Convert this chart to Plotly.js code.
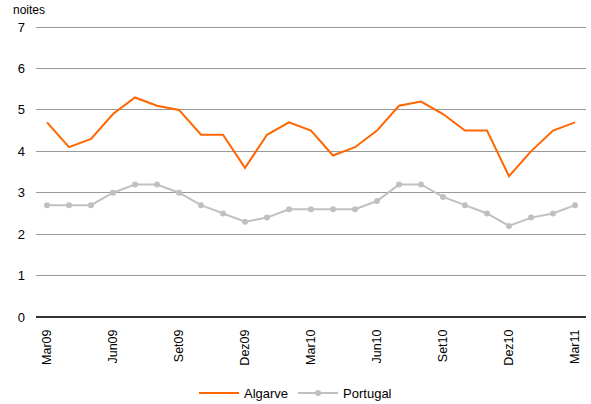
<!DOCTYPE html>
<html><head><meta charset="utf-8">
<script src="https://cdn.plot.ly/plotly-3.0.1.min.js"></script>
<style>html,body{margin:0;padding:0;background:#fff}#c{width:591px;height:404px}</style>
</head><body><div id="c"></div>
<script>
const months = ["Mar09","Abr09","Mai09","Jun09","Jul09","Ago09","Set09","Out09","Nov09","Dez09","Jan10","Fev10","Mar10","Abr10","Mai10","Jun10","Jul10","Ago10","Set10","Out10","Nov10","Dez10","Jan11","Fev11","Mar11"];
const tickLabels = ["Mar09","Jun09","Set09","Dez09","Mar10","Jun10","Set10","Dez10","Mar11"];
const algarve = [4.7,4.1,4.3,4.9,5.3,5.1,5.0,4.4,4.4,3.6,4.4,4.7,4.5,3.9,4.1,4.5,5.1,5.2,4.9,4.5,4.5,3.4,4.0,4.5,4.7];
const portugal = [2.7,2.7,2.7,3.0,3.2,3.2,3.0,2.7,2.5,2.3,2.4,2.6,2.6,2.6,2.6,2.8,3.2,3.2,2.9,2.7,2.5,2.2,2.4,2.5,2.7];
const yTicks = [0,1,2,3,4,5,6,7];

const data = [
  {x: months, y: algarve, name: "Algarve", type: "scatter", mode: "lines",
   line: {color: "#FF6600", width: 2}},
  {x: months, y: portugal, name: "Portugal", type: "scatter", mode: "lines+markers",
   line: {color: "#C0C0C0", width: 2}, marker: {color: "#C0C0C0", size: 6}}
];
const layout = {
  width: 591, height: 404,
  margin: {l: 36, r: 5, t: 25, b: 87},
  paper_bgcolor: "#fff", plot_bgcolor: "#fff",
  font: {family: "Liberation Sans, Arial, sans-serif", size: 12, color: "#000"},
  showlegend: true,
  legend: {orientation: "h", x: 0.5, xanchor: "center", xref: "container",
           y: 0.027, yanchor: "middle", yref: "container",
           font: {size: 13}, traceorder: "normal", itemwidth: 40},
  xaxis: {type: "category", categoryorder: "array", categoryarray: months,
          range: [-0.5, 24.5], tickmode: "array", tickvals: tickLabels, ticktext: tickLabels,
          tickangle: -90, showgrid: false, showline: false, zeroline: false, ticks: "",
          ticklabelstandoff: 9, automargin: false, tickfont: {size: 12.5}},
  yaxis: {range: [0, 7.05], tickmode: "array", tickvals: yTicks, showgrid: true,
          gridcolor: "#999999", gridwidth: 1, zeroline: true, zerolinecolor: "#333",
          zerolinewidth: 1.5, ticks: "", tickfont: {size: 13}, showline: false,
          ticklabelstandoff: 10, automargin: false},
  annotations: [{text: "noites", xref: "paper", yref: "paper", x: -0.045, y: 1.02,
                 xanchor: "left", yanchor: "bottom", showarrow: false, font: {size: 12}}]
};
Plotly.newPlot("c", data, layout, {displayModeBar: false, staticPlot: true});
</script></body></html>
